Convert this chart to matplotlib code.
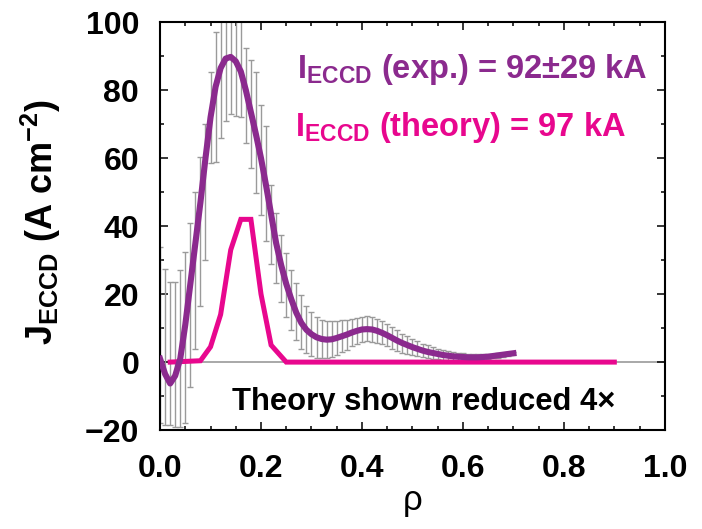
import matplotlib
matplotlib.use('Agg')
import matplotlib.pyplot as plt
from matplotlib.ticker import MultipleLocator, FormatStrFormatter
import numpy as np

# normalised radius of the measured profile
rho_exp = np.linspace(0.0, 0.70, 71)

# fitted ECCD current density (A cm^-2)
j_fit = [1.0, -3.5, -6.3, -4.0, 1.0, 11.0, 23.0, 35.0, 47.0, 60.0,
         72.0, 81.0, 86.5, 89.3, 89.8, 88.5, 85.5, 80.0, 73.5, 67.0,
         60.0, 52.0, 43.5, 35.0, 28.5, 23.0, 18.5, 14.5, 11.5, 9.5,
         8.2, 7.3, 6.8, 6.6, 6.7, 7.1, 7.6, 8.1, 8.7, 9.2,
         9.6, 9.7, 9.6, 9.2, 8.6, 7.9, 7.1, 6.3, 5.6, 5.0,
         4.4, 3.9, 3.4, 3.0, 2.7, 2.4, 2.1, 1.9, 1.7, 1.6,
         1.5, 1.4, 1.4, 1.4, 1.5, 1.6, 1.8, 2.0, 2.2, 2.4,
         2.6]

# measured points and their uncertainty
j_meas = [8.0, 4.5, 2.5, 2.3, 4.0, 7.2, 16.8, 27.0, 38.4, 50.0,
          72.0, 78.0, 88.0, 90.0, 91.0, 90.0, 89.0, 78.5, 73.0, 67.5,
          59.4, 52.5, 40.5, 33.5, 27.5, 22.6, 18.2, 14.8, 11.8, 9.6,
          8.2, 7.3, 6.8, 6.7, 6.8, 7.2, 7.6, 8.1, 8.7, 9.2,
          9.6, 9.8, 9.6, 9.2, 8.6, 7.9, 7.1, 6.3, 5.6, 5.0,
          4.4, 3.9, 3.4, 3.0, 2.7, 2.4, 2.1, 1.9, 1.7, 1.6,
          1.5, 1.4, 1.4, 1.4, 1.5, 1.6, 1.8, 2.0, 2.2, 2.4,
          2.6]
j_err = [26.0, 23.0, 21.0, 21.3, 23.0, 25.2, 24.2, 23.0, 21.9, 20.0,
         13.3, 19.0, 22.0, 19.0, 18.0, 17.5, 17.0, 14.0, 16.0, 17.8,
         16.2, 17.0, 11.5, 10.3, 9.8, 9.4, 8.8, 8.4, 7.8, 7.0,
         6.4, 6.0, 5.6, 5.4, 5.2, 5.0, 4.7, 4.4, 4.1, 3.9,
         3.8, 3.7, 3.6, 3.5, 3.4, 3.3, 3.1, 3.0, 2.8, 2.6,
         2.4, 2.2, 2.0, 1.9, 1.7, 1.6, 1.5, 1.4, 1.3, 1.2,
         1.1, 1.0, 0.9, 0.9, 0.8, 0.8, 0.7, 0.7, 0.6, 0.6,
         0.5]

# theory profile, already divided by 4
rho_theory = [0.02, 0.08, 0.10, 0.12, 0.14, 0.16, 0.18, 0.20, 0.22, 0.25, 0.90]
j_theory = [0.0, 0.4, 4.5, 14.0, 33.0, 42.0, 42.0, 20.0, 5.0, 0.0, 0.0]

purple = '#8b2a8e'
magenta = '#e8078e'
grey = '#9a9a9a'

sans = 'Liberation Sans'
plt.rcParams['font.family'] = [sans, 'DejaVu Sans']
plt.rcParams['font.weight'] = 'bold'
plt.rcParams['mathtext.fontset'] = 'custom'
plt.rcParams['mathtext.rm'] = sans + ':bold'
plt.rcParams['mathtext.bf'] = sans + ':bold'
plt.rcParams['mathtext.it'] = sans + ':bold'

fs = 23

fig = plt.figure(figsize=(7.02, 5.29), dpi=100)
ax = fig.add_axes([0.228, 0.187, 0.719, 0.771])

ax.axhline(0, color=grey, lw=1.2, zorder=1)
ax.errorbar(rho_exp, j_meas, yerr=j_err, fmt='none', ecolor=grey,
            elinewidth=1.0, capsize=2.5, capthick=1.0, zorder=2)
ax.plot(rho_theory, j_theory, color=magenta, lw=3.6, zorder=3,
        solid_joinstyle='miter')
ax.plot(rho_exp, j_fit, color=purple, lw=4.4, zorder=4)

ax.set_xlim(0, 1.0)
ax.set_ylim(-20, 100)
ax.xaxis.set_major_locator(MultipleLocator(0.2))
ax.xaxis.set_minor_locator(MultipleLocator(0.05))
ax.yaxis.set_major_locator(MultipleLocator(20))
ax.yaxis.set_minor_locator(MultipleLocator(10))
ax.xaxis.set_major_formatter(FormatStrFormatter('%.1f'))

for s in ax.spines.values():
    s.set_linewidth(1.5)
ax.tick_params(which='both', direction='in', top=True, right=True,
               width=1.1, labelsize=fs)
ax.tick_params(which='major', length=6)
ax.tick_params(which='minor', length=3.2)
ax.tick_params(axis='y', pad=15)
ax.tick_params(axis='x', pad=17)

ax.set_xlabel('\u03c1', fontsize=fs + 2, fontweight='normal', labelpad=0)
fig.text(0.058, 0.58, r'J$_{\mathbf{ECCD}}$ (A cm$^{\mathbf{-2}}$)',
         rotation=90, fontsize=26, ha='center', va='center')

ax.text(0.271, 0.863, 'I$_{\\mathbf{ECCD}}$ (exp.) = 92\u00b129 kA',
        transform=ax.transAxes, color=purple, fontsize=fs + 0.5, va='baseline')
ax.text(0.268, 0.7206, 'I$_{\\mathbf{ECCD}}$ (theory) = 97 kA',
        transform=ax.transAxes, color=magenta, fontsize=fs + 0.5, va='baseline')
ax.text(0.1426, 0.049, 'Theory shown reduced 4\u00d7',
        transform=ax.transAxes, color='black', fontsize=22.3, va='baseline')

fig.savefig('out.png', dpi=100)
